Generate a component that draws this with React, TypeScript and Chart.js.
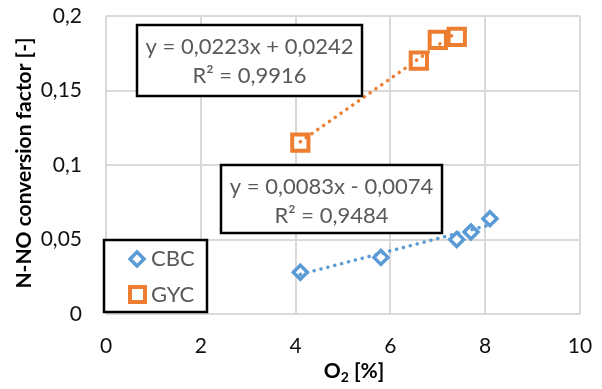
import React, { useEffect, useRef } from "react";
import { Chart, registerables } from "chart.js";

Chart.register(...registerables);

const cbcX = [4.1, 5.8, 7.4, 7.7, 8.1];
const cbcY = [0.028, 0.038, 0.05, 0.055, 0.064];
const gycX = [4.1, 6.6, 7.0, 7.4];
const gycY = [0.115, 0.17, 0.184, 0.186];
const cbcTrendX = [4.1, 8.1];
const cbcTrendY = [0.0266, 0.0598];
const gycTrendX = [4.1, 7.4];
const gycTrendY = [0.1156, 0.1892];
const seriesNames = ["CBC", "GYC"];
const gycEquation = ["y = 0,0223x + 0,0242", "R² = 0,9916"];
const cbcEquation = ["y = 0,0083x - 0,0074", "R² = 0,9484"];
const xTitle = ["O", "2", " [%]"];
const yTitle = "N-NO conversion factor [-]";

const BLUE = "#5B9BD5";
const ORANGE = "#ED7D31";
const FONT = "Lato";

const pts = (xs: number[], ys: number[]) => xs.map((x, i) => ({ x, y: ys[i] }));

const decor = {
  id: "decor",
  afterDraw(chart: any) {
    const ctx = chart.ctx as CanvasRenderingContext2D;
    ctx.save();
    const box = (l: number, t: number, r: number, b: number) => {
      ctx.fillStyle = "#fff";
      ctx.fillRect(l, t, r - l, b - t);
      ctx.strokeStyle = "#000";
      ctx.lineWidth = 2.5;
      ctx.strokeRect(l, t, r - l, b - t);
    };
    const eqBox = (l: number, t: number, r: number, b: number, lines: string[], y1: number, y2: number) => {
      box(l, t, r, b);
      ctx.fillStyle = "#595959";
      ctx.font = `22px ${FONT}`;
      ctx.textAlign = "center";
      ctx.textBaseline = "middle";
      ctx.fillText(lines[0], (l + r) / 2, y1);
      ctx.fillText(lines[1], (l + r) / 2, y2);
    };
    eqBox(137, 25, 362, 96, gycEquation, 47, 76);
    eqBox(221, 165, 442, 233, cbcEquation, 187, 216);

    // legend
    box(104, 240, 207, 312);
    ctx.lineWidth = 3.5;
    ctx.strokeStyle = BLUE;
    ctx.fillStyle = "#fff";
    ctx.beginPath();
    ctx.moveTo(137, 252);
    ctx.lineTo(144, 259);
    ctx.lineTo(137, 266);
    ctx.lineTo(130, 259);
    ctx.closePath();
    ctx.fill();
    ctx.stroke();
    ctx.strokeStyle = ORANGE;
    ctx.lineWidth = 4;
    ctx.fillRect(130, 287, 15, 15);
    ctx.strokeRect(130, 287, 15, 15);
    ctx.fillStyle = "#595959";
    ctx.font = `22px ${FONT}`;
    ctx.textAlign = "left";
    ctx.textBaseline = "middle";
    ctx.fillText(seriesNames[0], 151, 259);
    ctx.fillText(seriesNames[1], 151, 295);

    // axis titles
    ctx.fillStyle = "#000";
    ctx.font = `bold 21px ${FONT}`;
    ctx.save();
    ctx.translate(24, 163);
    ctx.rotate(-Math.PI / 2);
    ctx.textAlign = "center";
    ctx.fillText(yTitle, 0, 0);
    ctx.restore();

    const wO = ctx.measureText(xTitle[0]).width;
    ctx.font = `bold 14px ${FONT}`;
    const w2 = ctx.measureText(xTitle[1]).width;
    ctx.font = `bold 21px ${FONT}`;
    const wR = ctx.measureText(xTitle[2]).width;
    let x0 = 354 - (wO + w2 + wR) / 2;
    ctx.textAlign = "left";
    ctx.fillText(xTitle[0], x0, 371);
    ctx.font = `bold 14px ${FONT}`;
    ctx.fillText(xTitle[1], x0 + wO, 377);
    ctx.font = `bold 21px ${FONT}`;
    ctx.fillText(xTitle[2], x0 + wO + w2, 371);
    ctx.restore();
  },
};

export default function App() {
  const ref = useRef<HTMLCanvasElement>(null);
  useEffect(() => {
    const chart = new Chart(ref.current!, {
      type: "scatter",
      data: {
        datasets: [
          {
            type: "line",
            data: pts(gycTrendX, gycTrendY),
            borderColor: ORANGE,
            borderWidth: 3.5,
            borderDash: [0.1, 7],
            borderCapStyle: "round",
            pointRadius: 0,
            fill: false,
          } as any,
          {
            type: "line",
            data: pts(cbcTrendX, cbcTrendY),
            borderColor: BLUE,
            borderWidth: 3.5,
            borderDash: [0.1, 7],
            borderCapStyle: "round",
            pointRadius: 0,
            fill: false,
          } as any,
          {
            label: seriesNames[0],
            data: pts(cbcX, cbcY),
            pointStyle: "rectRot",
            pointRadius: 7,
            pointBorderWidth: 3.5,
            borderColor: BLUE,
            backgroundColor: "#fff",
          },
          {
            label: seriesNames[1],
            data: pts(gycX, gycY),
            pointStyle: "rect",
            pointRadius: 11.5,
            pointBorderWidth: 4,
            borderColor: ORANGE,
            backgroundColor: "#fff",
          },
        ],
      },
      options: {
        responsive: false,
        animation: false,
        layout: { padding: { left: 0, right: 22, top: 16, bottom: 0 } },
        plugins: { legend: { display: false }, tooltip: { enabled: false } },
        scales: {
          x: {
            type: "linear",
            min: 0,
            max: 10,
            ticks: { stepSize: 2, padding: 20, color: "#111", font: { family: FONT, size: 21 } },
            grid: { color: "#d9d9d9", lineWidth: 2, drawTicks: false },
            border: { display: false },
            afterFit: (s: any) => {
              s.height = 75;
              s.paddingLeft = 0;
              s.paddingRight = 0;
            },
          },
          y: {
            min: 0,
            max: 0.2,
            ticks: {
              stepSize: 0.05,
              padding: 24,
              color: "#111",
              font: { family: FONT, size: 21 },
              callback: (v: any) => String(Number(Number(v).toFixed(2))).replace(".", ","),
            },
            grid: { color: "#d9d9d9", lineWidth: 2, drawTicks: false },
            border: { display: false },
            afterFit: (s: any) => {
              s.width = 106;
              s.paddingTop = 0;
              s.paddingBottom = 0;
            },
          },
        },
      },
      plugins: [decor],
    });
    return () => chart.destroy();
  }, []);
  return (
    <div style={{ position: "absolute", left: 0, top: 0, width: 602, height: 389, background: "#fff" }}>
      <canvas ref={ref} width={602} height={389} />
    </div>
  );
}
